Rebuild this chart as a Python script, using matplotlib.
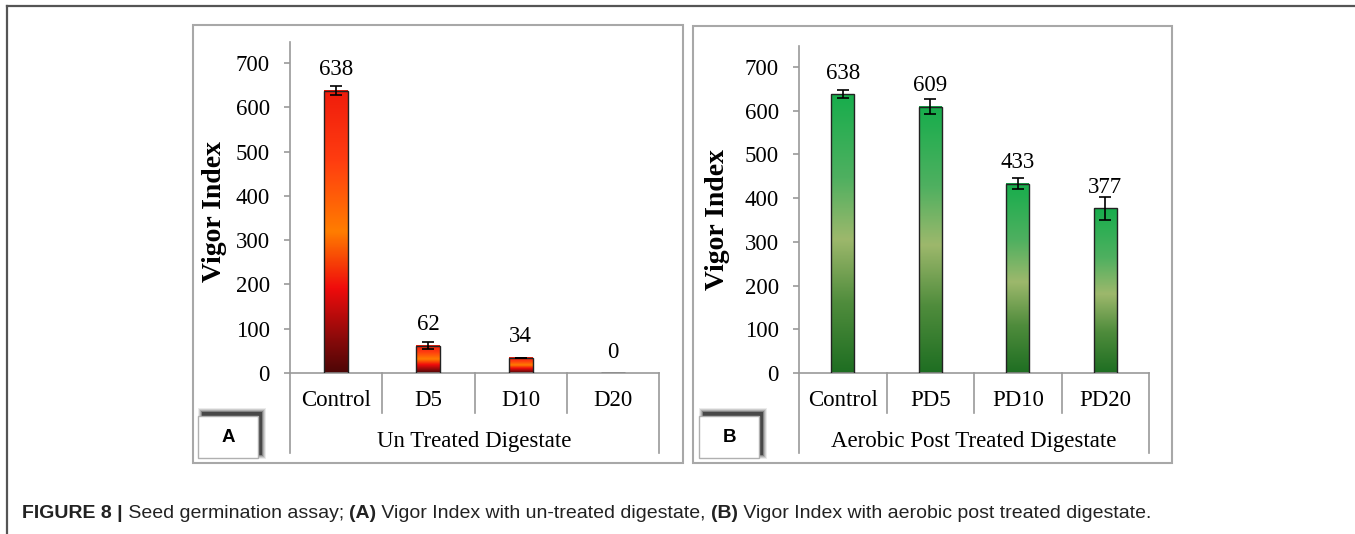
"""
    Figura 8: indice de vigor con digestato sin tratar (A) y con
    post tratamiento aerobico (B)
"""
import numpy as np
import matplotlib
matplotlib.use('Agg')
import matplotlib.pyplot as plt
from matplotlib.colors import LinearSegmentedColormap
from matplotlib.patches import Rectangle
from matplotlib.lines import Line2D

# =========================================================================== #
# Datos
categorias_a = ['Control', 'D5', 'D10', 'D20']
valores_a = [638, 62, 34, 0]
errores_a = [10, 8, 1, 0]

categorias_b = ['Control', 'PD5', 'PD10', 'PD20']
valores_b = [638, 609, 433, 377]
errores_b = [10, 17, 12, 26]

grupo_a = 'Un Treated Digestate'
grupo_b = 'Aerobic Post Treated Digestate'
marcas_y = [0, 100, 200, 300, 400, 500, 600, 700]

titulo = [('FIGURE 8 |', 'bold'),
          (' Seed germination assay; ', 'normal'),
          ('(A)', 'bold'),
          (' Vigor Index with un-treated digestate, ', 'normal'),
          ('(B)', 'bold'),
          (' Vigor Index with aerobic post treated digestate.', 'normal')]

# =========================================================================== #
plt.rcParams['font.family'] = ['Liberation Serif', 'DejaVu Serif']

W, H = 1355, 534
fig = plt.figure(figsize=(W / 100, H / 100), dpi=100)
gris = '#9a9a9a'

rojo = LinearSegmentedColormap.from_list(
    'rojo', [(0, '#4d0606'), (0.12, '#8a0a0a'), (0.3, '#f00c0c'),
             (0.5, '#ff7d00'), (0.75, '#ff3d10'), (1, '#f01c0c')])
verde = LinearSegmentedColormap.from_list(
    'verde', [(0, '#1e6e22'), (0.25, '#4f8c3c'), (0.48, '#9db86c'),
              (0.7, '#4fb060'), (1, '#17ad4c')])


def fx(x):
    return x / W


def fy(y):
    return 1 - y / H


def panel(izq, der, arriba, abajo, cats, vals, errs, cmap, grupo):
    ax = fig.add_axes([fx(izq), fy(abajo), fx(der - izq), fy(arriba) - fy(abajo)])
    alto = abajo - arriba
    ancho = 0.26
    grad = np.linspace(0, 1, 256).reshape(-1, 1)
    for i, (v, e) in enumerate(zip(vals, errs)):
        if v > 0:
            ax.imshow(grad, extent=[i - ancho / 2, i + ancho / 2, 0, v],
                      origin='lower', aspect='auto', cmap=cmap, zorder=2)
        ax.bar(i, v, width=ancho, facecolor='none', edgecolor='#222222',
               linewidth=1.0, zorder=3)
        if e > 0:
            ax.errorbar(i, v, yerr=e, fmt='none', ecolor='black',
                        elinewidth=1.2, capsize=4, capthick=1.2, zorder=4)
        ax.annotate(str(v), xy=(i, v), xytext=(0, 21),
                    textcoords='offset pixels', ha='center', va='center',
                    fontsize=16.5)
        ax.annotate(cats[i], xy=(i, 0), xycoords=('data', 'axes fraction'),
                    xytext=(0, -27), textcoords='offset pixels',
                    ha='center', va='center', fontsize=16.5)
    ax.annotate(grupo, xy=(0.5, 0), xycoords='axes fraction',
                xytext=(0, -68), textcoords='offset pixels',
                ha='center', va='center', fontsize=16.5)

    ax.set_xlim(-0.5, 3.5)
    ax.set_ylim(0, 748)
    ax.set_xticks([])
    ax.set_yticks(marcas_y)
    ax.tick_params(axis='y', direction='out', length=4.5, width=1.2,
                   color=gris, pad=10, labelsize=16.5)
    for s in ax.spines.values():
        s.set_visible(False)

    # Lineas de ejes y separadores de categorias
    ax.plot([0, 0], [1, -80 / alto], transform=ax.transAxes, color=gris,
            lw=1.2, clip_on=False)
    ax.plot([0, 1], [0, 0], transform=ax.transAxes, color=gris, lw=1.2,
            clip_on=False)
    ax.plot([1, 1], [0, -80 / alto], transform=ax.transAxes, color=gris,
            lw=1.2, clip_on=False)
    for k in [1, 2, 3]:
        ax.plot([k / 4, k / 4], [0, -40 / alto], transform=ax.transAxes,
                color=gris, lw=1.2, clip_on=False)
    return ax


def marco(x0, y0, x1, y1, color, lw):
    fig.patches.append(Rectangle((fx(x0), fy(y1)), fx(x1 - x0), fy(y0) - fy(y1),
                                 transform=fig.transFigure, fill=False,
                                 edgecolor=color, lw=lw))


def etiqueta(x0, y0, letra):
    # sombra difusa arriba y a la derecha
    for k, a in [(4, 0.08), (3, 0.12), (2, 0.15), (1, 0.25), (0, 0.45)]:
        fig.patches.append(Rectangle((fx(x0 + 4 - k), fy(y0 + 39 + k)),
                                     fx(60 + 2 * k), (43 + 2 * k) / H,
                                     transform=fig.transFigure,
                                     facecolor='black', alpha=a, lw=0))
    fig.patches.append(Rectangle((fx(x0), fy(y0 + 42)), fx(60), 42 / H,
                                 transform=fig.transFigure, facecolor='white',
                                 edgecolor='#b0b0b0', lw=1.0))
    fig.text(fx(x0 + 30), fy(y0 + 21), letra, ha='center', va='center',
             fontsize=13.5, fontweight='bold', family='Liberation Sans')


# =========================================================================== #
# Marco exterior de la figura
fig.add_artist(Line2D([fx(7), 1], [fy(6), fy(6)], color='#555555', lw=1.6))
fig.add_artist(Line2D([fx(7), fx(7)], [fy(6), 0], color='#555555', lw=1.6))

# Marcos de cada panel
marco(193, 25, 683, 463, '#a8a8a8', 1.5)
marco(693, 26, 1172, 463, '#a8a8a8', 1.5)

panel(290, 659, 42, 373, categorias_a, valores_a, errores_a, rojo, grupo_a)
panel(799, 1149, 46, 373, categorias_b, valores_b, errores_b, verde, grupo_b)

fig.text(fx(215), fy(212), 'Vigor Index', rotation=90, ha='center',
         va='center', fontsize=20, fontweight='bold')
fig.text(fx(718), fy(220), 'Vigor Index', rotation=90, ha='center',
         va='center', fontsize=20, fontweight='bold')

etiqueta(198, 416, 'A')
etiqueta(699, 416, 'B')

# Pie de figura con partes en negrita
render = fig.canvas.get_renderer()
x = fx(22)
for texto, peso in titulo:
    t = fig.text(x, fy(514), texto, ha='left', va='center', fontsize=14,
                 fontweight=peso, family='Liberation Sans', color='#222222')
    bb = t.get_window_extent(render)
    x = bb.x1 / W

fig.savefig('out.png', dpi=100)
